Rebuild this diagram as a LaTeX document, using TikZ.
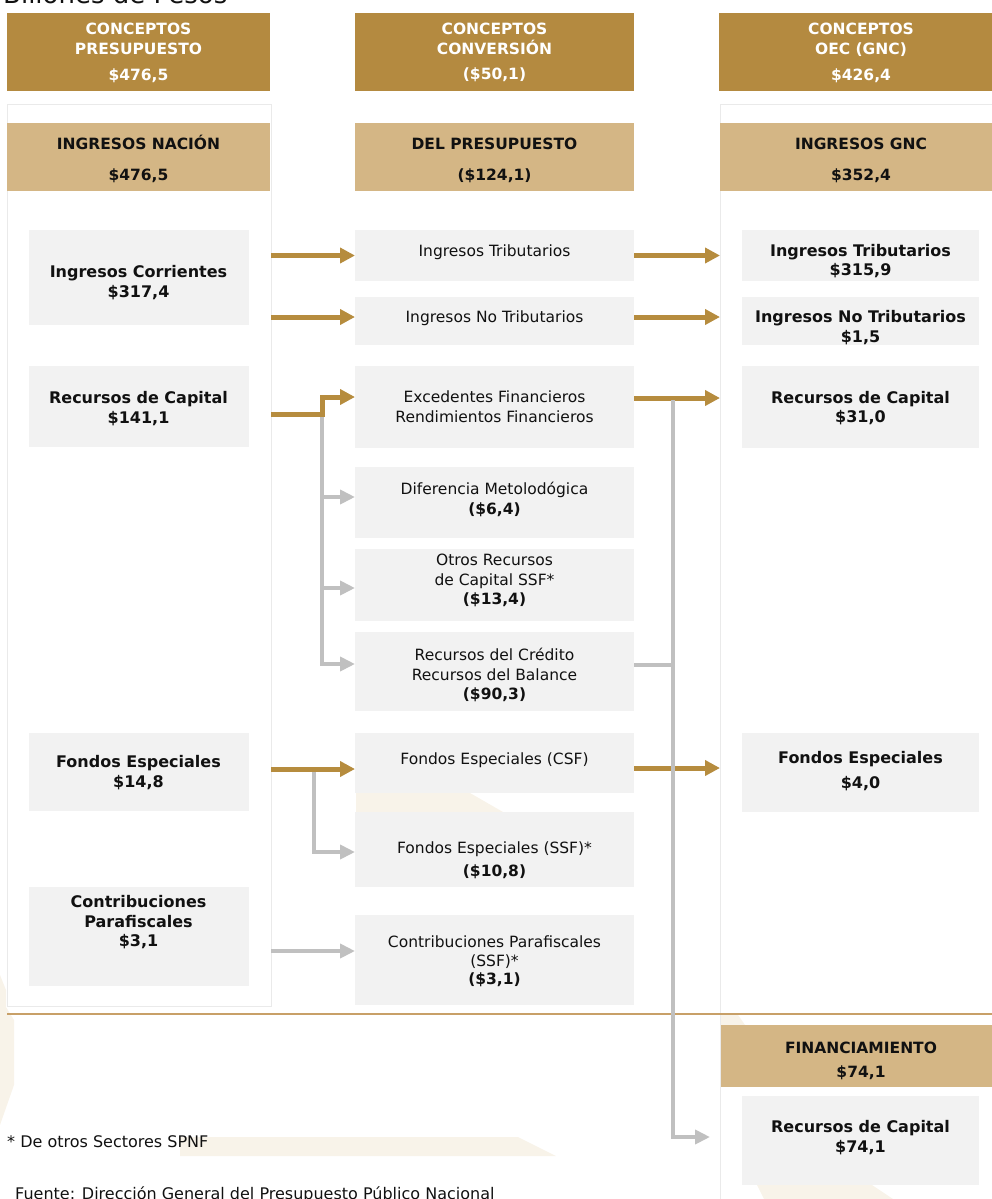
\documentclass[tikz,border=0pt]{standalone}
\usepackage{fontspec}
\setmainfont{DejaVu Sans}
\usetikzlibrary{arrows.meta,calc}
\definecolor{hdrgold}{RGB}{180,138,64}
\definecolor{tanc}{RGB}{212,182,133}
\definecolor{boxgray}{RGB}{242,242,242}
\definecolor{arrgold}{RGB}{182,140,62}
\definecolor{arrgray}{RGB}{192,192,192}
\definecolor{divline}{RGB}{200,160,104}
\definecolor{panelline}{RGB}{234,234,234}
\definecolor{cream}{RGB}{248,243,233}
\definecolor{txtc}{RGB}{17,17,17}
\newcommand{\mystrut}{\rule{0pt}{15pt}}
\newcommand{\fsz}{\fontsize{15.5}{20}\selectfont}
\newcommand{\fszb}{\fontsize{16}{20}\selectfont}
\begin{document}
\begin{tikzpicture}[x=1pt,y=1pt,
  box/.style={anchor=north west, inner sep=0pt, outer sep=0pt, draw=none},
  hdrbox/.style={box, fill=hdrgold},
  tanbox/.style={box, fill=tanc},
  graybox/.style={box, fill=boxgray},
  panel/.style={box, fill=white, draw=panelline, line width=1pt},
  txt/.style={anchor=north, align=center, inner sep=0pt, font=\fsz, text=txtc},
  hdrtxt/.style={txt, text=white, font=\fsz\bfseries},
  btxt/.style={txt, font=\fsz\bfseries},
  gbtxt/.style={txt, font=\fszb\bfseries},
  note/.style={anchor=base west, inner sep=0pt, font=\fontsize{16}{20}\selectfont, text=txtc},
  goldarr/.style={draw=arrgold, line width=5pt, -{Triangle[length=15pt,width=15pt]}},
  grayarr/.style={draw=arrgray, line width=4.5pt, -{Triangle[length=15pt,width=14pt]}},
  grayline/.style={draw=arrgray, line width=4.5pt},
  cr/.style={fill=cream, draw=none}
]
\useasboundingbox (0,0) rectangle (991,-1199);

% title (cut off at top, as in the reference)
\node[anchor=base west, inner sep=0pt, font=\fontsize{26}{30}\selectfont, text=txtc] (title) at (3,-4) {Billones de Pesos};

% panels
\node[panel, minimum width=264pt, minimum height=902pt] (lpanel) at (7,-104) {};
\node[panel, minimum width=290pt, minimum height=1120pt] (rpanel) at (720,-104) {};

% watermark fragments
\fill[cr] (356,-793) -- (470,-793) -- (503,-812) -- (356,-812) -- cycle;
\fill[cr] (180,-1137) -- (518,-1137) -- (556,-1156) -- (180,-1156) -- cycle;
\fill[cr] (0,-975) -- (6,-990) -- (6,-1007) -- (14,-1020) -- (14,-1085) -- (0,-1125) -- cycle;
\fill[cr] (721,-1015) -- (738,-1015) -- (745,-1025) -- (721,-1025) -- cycle;
\fill[cr] (757,-1185) -- (872,-1185) -- (893,-1199) -- (764,-1199) -- cycle;

% header boxes
\node[hdrbox, minimum width=263pt, minimum height=78pt] (hL) at (7,-13) {};
\node[hdrbox, minimum width=279pt, minimum height=78pt] (hM) at (355,-13) {};
\node[hdrbox, minimum width=284pt, minimum height=78pt] (hR) at (719,-13) {};

% tan boxes
\node[tanbox, minimum width=263pt, minimum height=68pt] (tL) at (7,-123) {};
\node[tanbox, minimum width=279pt, minimum height=68pt] (tM) at (355,-123) {};
\node[tanbox, minimum width=283pt, minimum height=68pt] (tR) at (720,-123) {};
\node[tanbox, minimum width=282pt, minimum height=62pt] (tF) at (721,-1025) {};

% left gray boxes
\node[graybox, minimum width=220pt, minimum height=95pt] (lIC) at (29,-230) {};
\node[graybox, minimum width=220pt, minimum height=81pt] (lRC) at (29,-366) {};
\node[graybox, minimum width=220pt, minimum height=78pt] (lFE) at (29,-733) {};
\node[graybox, minimum width=220pt, minimum height=99pt] (lCP) at (29,-887) {};

% middle gray boxes
\node[graybox, minimum width=279pt, minimum height=51pt] (mIT) at (355,-230) {};
\node[graybox, minimum width=279pt, minimum height=48pt] (mINT) at (355,-297) {};
\node[graybox, minimum width=279pt, minimum height=82pt] (mEF) at (355,-366) {};
\node[graybox, minimum width=279pt, minimum height=71pt] (mDM) at (355,-467) {};
\node[graybox, minimum width=279pt, minimum height=72pt] (mOR) at (355,-549) {};
\node[graybox, minimum width=279pt, minimum height=79pt] (mRCr) at (355,-632) {};
\node[graybox, minimum width=279pt, minimum height=60pt] (mFC) at (355,-733) {};
\node[graybox, minimum width=279pt, minimum height=75pt] (mFS) at (355,-812) {};
\node[graybox, minimum width=279pt, minimum height=90pt] (mCP) at (355,-915) {};

% right gray boxes
\node[graybox, minimum width=237pt, minimum height=51pt] (rIT) at (742,-230) {};
\node[graybox, minimum width=237pt, minimum height=48pt] (rINT) at (742,-297) {};
\node[graybox, minimum width=237pt, minimum height=82pt] (rRC) at (742,-366) {};
\node[graybox, minimum width=237pt, minimum height=79pt] (rFE) at (742,-733) {};
\node[graybox, minimum width=237pt, minimum height=89pt] (rRC2) at (742,-1096) {};

% header texts
\node[hdrtxt] (hLt) at (138.5,-19) {\mystrut CONCEPTOS\\PRESUPUESTO\\[6pt]\$476,5};
\node[hdrtxt] (hMt) at (494.5,-19) {\mystrut CONCEPTOS\\CONVERSIÓN\\[5pt](\$50,1)};
\node[hdrtxt] (hRt) at (861,-19) {\mystrut CONCEPTOS\\OEC (GNC)\\[6pt]\$426,4};

% tan texts
\node[btxt] (tLt) at (138.5,-134) {\mystrut INGRESOS NACIÓN\\[11pt]\$476,5};
\node[btxt] (tMt) at (494.5,-134) {\mystrut DEL PRESUPUESTO\\[11pt](\$124,1)};
\node[btxt] (tRt) at (861,-134) {\mystrut INGRESOS GNC\\[11pt]\$352,4};
\node[btxt] (tFt) at (861,-1038) {\mystrut FINANCIAMIENTO\\[4pt]\$74,1};

% left texts
\node[gbtxt] (lICt) at (138.5,-262) {\mystrut Ingresos Corrientes\\\$317,4};
\node[gbtxt] (lRCt) at (138.5,-388) {\mystrut Recursos de Capital\\\$141,1};
\node[gbtxt] (lFEt) at (138.5,-752) {\mystrut Fondos Especiales\\\$14,8};
\node[gbtxt] (lCPt) at (138.5,-892) {\mystrut Contribuciones\\Parafiscales\\[-1pt]\$3,1};

% middle texts
\node[txt] (mITt) at (494.5,-241) {\mystrut Ingresos Tributarios};
\node[txt] (mINTt) at (494.5,-307) {\mystrut Ingresos No Tributarios};
\node[txt] (mEFt) at (494.5,-387) {\mystrut Excedentes Financieros\\Rendimientos Financieros};
\node[txt] (mDMt) at (494.5,-479) {\mystrut Diferencia Metolodógica\\\textbf{(\$6,4)}};
\node[txt] (mORt) at (494.5,-550) {\mystrut Otros Recursos\\de Capital SSF*\\[-1pt]\textbf{(\$13,4)}};
\node[txt] (mRCrt) at (494.5,-645) {\mystrut Recursos del Crédito\\Recursos del Balance\\[-1pt]\textbf{(\$90,3)}};
\node[txt] (mFCt) at (494.5,-749) {\mystrut Fondos Especiales (CSF)};
\node[txt] (mFSt) at (494.5,-838) {\mystrut Fondos Especiales (SSF)*\\[3pt]\textbf{(\$10,8)}};
\node[txt] (mCPt) at (494.5,-932) {\mystrut Contribuciones Parafiscales\\[-1pt](SSF)*\\[-2pt]\textbf{(\$3,1)}};

% right texts
\node[gbtxt] (rITt) at (860.5,-241) {\mystrut Ingresos Tributarios\\[-1pt]\$315,9};
\node[gbtxt] (rINTt) at (860.5,-307) {\mystrut Ingresos No Tributarios\\\$1,5};
\node[gbtxt] (rRCt) at (860.5,-388) {\mystrut Recursos de Capital\\[-1pt]\$31,0};
\node[gbtxt] (rFEt) at (860.5,-748) {\mystrut Fondos Especiales\\[5pt]\$4,0};
\node[gbtxt] (rRC2t) at (860.5,-1117) {\mystrut Recursos de Capital\\\$74,1};

% footnotes (the source line is cut at the bottom edge, as in the reference)
\node[note] (fn1) at (7,-1147) {* De otros Sectores SPNF};
\node[note] (fn2) at (15,-1199) {Fuente: Dirección General del Presupuesto Público Nacional};

% divider
\draw[draw=divline, line width=1.5pt] (7,-1014) -- (995,-1014);

% junctions
\coordinate (jRC) at (322,-414);
\coordinate (jFE) at (314,-769);
\coordinate (jG) at (673,-400);
\coordinate (pINT) at ($(mINT.west)+(0,4)$);
\coordinate (pEF) at ($(mEF.west)+(0,10)$);
\coordinate (qINT) at ($(mINT.east)+(0,4)$);
\coordinate (qEF) at ($(mEF.east)+(0,9)$);
\coordinate (qFC) at ($(mFC.east)+(0,-5)$);
\coordinate (pCP) at ($(mCP.west)+(0,9)$);
\coordinate (qRCr) at ($(mRCr.east)+(0,6.5)$);

% gray branches (left)
\draw[grayarr] (jRC) |- ($(mDM.west)+(0,5.5)$);
\draw[grayarr] (jRC) |- ($(mOR.west)+(0,-3)$);
\draw[grayarr] (jRC) |- ($(mRCr.west)+(0,7.5)$);
\draw[grayarr] (jFE) |- ($(mFS.west)+(0,-2.5)$);
\draw[grayarr] (lpanel.east |- pCP) -- (pCP);

% gold arrows
\draw[goldarr] (lpanel.east |- mIT.west) -- (mIT.west);
\draw[goldarr] (lpanel.east |- pINT) -- (pINT);
\draw[goldarr] (lpanel.east |- jRC) -- (jRC) |- (pEF);
\draw[goldarr] (mIT.east) -- (mIT.east -| rpanel.west);
\draw[goldarr] (qINT) -- (qINT -| rpanel.west);
\draw[goldarr] (qEF) -- (qEF -| rpanel.west);
\draw[goldarr] (lpanel.east |- jFE) -- (jFE -| mFC.west);
\draw[goldarr] (qFC) -- (qFC -| rpanel.west);

% big gray line to financing
\draw[grayline] (qRCr) -| (jG);
\draw[grayarr, shorten >=32pt] (jG) |- ($(rRC2.west)+(0,3.5)$);
\end{tikzpicture}
\end{document}
